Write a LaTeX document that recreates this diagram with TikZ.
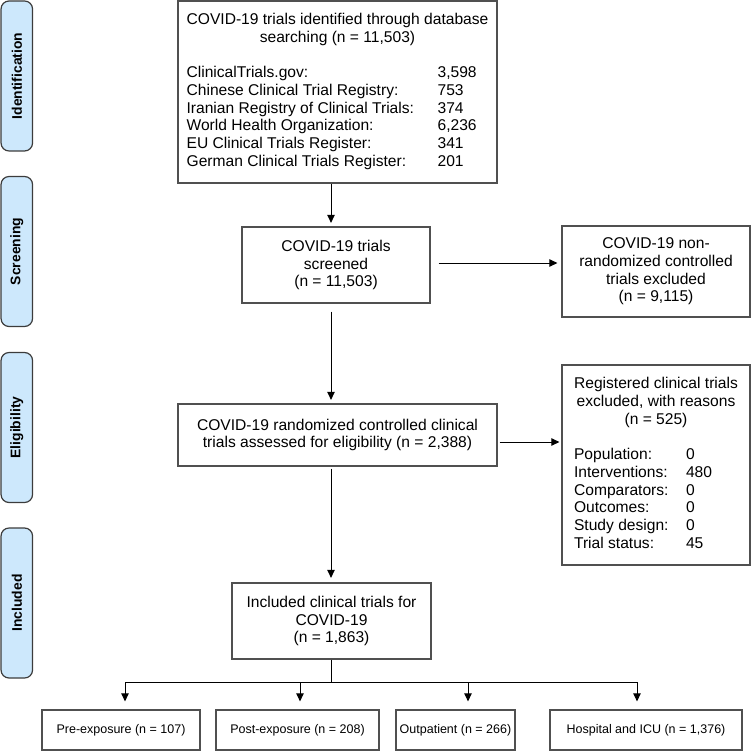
\documentclass[tikz,border=0pt]{standalone}
\usepackage{fontspec}
\setmainfont{Liberation Sans}
\usetikzlibrary{arrows.meta,calc}
\definecolor{sidefill}{RGB}{205,232,252}
\definecolor{boxline}{RGB}{80,80,80}
\definecolor{sideline}{RGB}{60,60,60}
\begin{document}
\begin{tikzpicture}[x=1pt,y=-1pt,
  box/.style={draw=boxline, line width=1.3pt, fill=white, inner sep=0pt, align=center,
    font=\fontsize{15.6}{17.7}\selectfont},
  side/.style={draw=sideline, line width=1.2pt, fill=sidefill, rounded corners=8pt, inner sep=0pt,
    rotate=90, minimum width=150pt, minimum height=31.5pt, font=\fontsize{13.9}{16}\selectfont\bfseries},
  small/.style={draw=boxline, line width=1.3pt, fill=white, inner sep=0pt, minimum height=40pt,
    font=\fontsize{12.5}{15}\selectfont},
  arr/.style={-{Triangle[length=8pt,width=7.5pt]}, line width=1pt, black},
  ln/.style={line width=1pt, black}
]
\useasboundingbox (0,0) rectangle (751,751);

% phase sidebars
\node[side] (s1) at (16.8,76) {Identification};
\node[side] (s2) at (16.8,251.5) {Screening};
\node[side] (s3) at (16.8,427.5) {Eligibility};
\node[side] (s4) at (16.8,603) {Included};

% main boxes
\node[box, minimum width=319pt, minimum height=182pt] (top) at (337.5,92) {%
\begin{tabular}{@{}l@{}l@{}}
\multicolumn{2}{@{}c@{}}{COVID-19 trials identified through database}\\
\multicolumn{2}{@{}c@{}}{searching (n = 11,503)}\\
\\
\makebox[251pt][l]{ClinicalTrials.gov:} & 3,598\\
\makebox[251pt][l]{Chinese Clinical Trial Registry:} & 753\\
\makebox[251pt][l]{Iranian Registry of Clinical Trials:} & 374\\
\makebox[251pt][l]{World Health Organization:} & 6,236\\
\makebox[251pt][l]{EU Clinical Trials Register:} & 341\\
\makebox[251pt][l]{German Clinical Trials Register:} & 201
\end{tabular}};

\node[box, minimum width=188pt, minimum height=76pt] (scr) at (336,265)
  {COVID-19 trials\\screened\\(n = 11,503)};
\node[box, minimum width=188pt, minimum height=91pt] (nonr) at (656,271.5)
  {COVID-19 non-\\randomized controlled\\trials excluded\\(n = 9,115)};
\node[box, minimum width=319pt, minimum height=62pt] (elig) at (337.5,435)
  {COVID-19 randomized controlled clinical\\trials assessed for eligibility (n = 2,388)};
\node[box, minimum width=188pt, minimum height=200pt] (reg) at (656,465) {%
\begin{tabular}{@{}l@{}l@{}}
\multicolumn{2}{@{}c@{}}{Registered clinical trials}\\
\multicolumn{2}{@{}c@{}}{excluded, with reasons}\\
\multicolumn{2}{@{}c@{}}{(n = 525)}\\
\\
\makebox[112pt][l]{Population:} & 0\\
\makebox[112pt][l]{Interventions:} & 480\\
\makebox[112pt][l]{Comparators:} & 0\\
\makebox[112pt][l]{Outcomes:} & 0\\
\makebox[112pt][l]{Study design:} & 0\\
\makebox[112pt][l]{Trial status:} & 45
\end{tabular}};
\node[box, minimum width=199pt, minimum height=76pt] (incl) at (331.5,621)
  {Included clinical trials for\\COVID-19\\(n = 1,863)};

% bottom boxes
\node[small, minimum width=158pt] (b1) at (121,730) {Pre-exposure (n = 107)};
\node[small, minimum width=163pt] (b2) at (297.5,730) {Post-exposure (n = 208)};
\node[small, minimum width=119pt] (b3) at (455.5,730) {Outpatient (n = 266)};
\node[small, minimum width=192pt] (b4) at (646,730) {Hospital and ICU (n = 1,376)};

% helper coordinates
\coordinate (axis) at (331,0);
\coordinate (sa) at (0,263);
\coordinate (ea) at (0,442);
\coordinate (split) at (331,682);
\coordinate (t1) at (125,682);
\coordinate (t2) at (300,682);
\coordinate (t3) at (468,682);
\coordinate (t4) at (637,682);

% vertical flow
\draw[arr, shorten >=3.5pt] (top.south -| axis) -- (scr.north -| axis);
\draw[arr, shorten <=8pt, shorten >=3.5pt] (scr.south -| axis) -- (elig.north -| axis);
\draw[arr, shorten <=2pt, shorten >=4.5pt] (elig.south -| axis) -- (incl.north -| axis);

% exclusions
\draw[arr, shorten <=8pt, shorten >=4pt] (scr.east |- sa) -- (nonr.west |- sa);
\draw[arr, shorten <=2pt, shorten >=2pt] (elig.east |- ea) -- (reg.west |- ea);

% split to subgroups
\draw[ln] (incl.south -| axis) -- (split);
\draw[ln] (t1) -- (t4);
\draw[arr, shorten >=8pt] (t1) -- (b1.north -| t1);
\draw[arr, shorten >=8pt] (t2) -- (b2.north -| t2);
\draw[arr, shorten >=8pt] (t3) -- (b3.north -| t3);
\draw[arr, shorten >=8pt] (t4) -- (b4.north -| t4);
\end{tikzpicture}
\end{document}
